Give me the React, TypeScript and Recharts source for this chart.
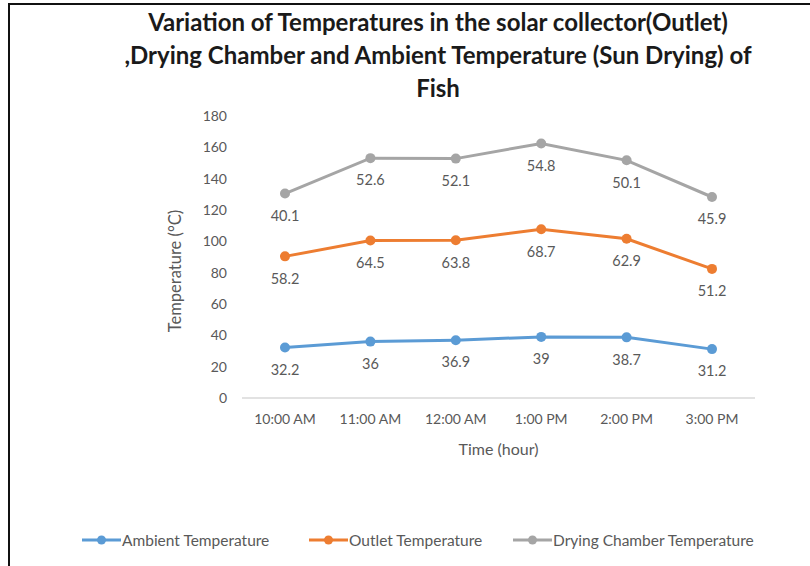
import React from 'react';
import { AreaChart, Area, XAxis, YAxis, LabelList } from 'recharts';

const times = ['10:00 AM', '11:00 AM', '12:00 AM', '1:00 PM', '2:00 PM', '3:00 PM'];
const ambient = [32.2, 36, 36.9, 39, 38.7, 31.2];
const outlet = [58.2, 64.5, 63.8, 68.7, 62.9, 51.2];
const dryingChamber = [40.1, 52.6, 52.1, 54.8, 50.1, 45.9];
const yTicks = [0, 20, 40, 60, 80, 100, 120, 140, 160, 180];

const series = [
  { key: 'ambient', name: 'Ambient Temperature', color: '#5B9BD5', legendX: 82 },
  { key: 'outlet', name: 'Outlet Temperature', color: '#ED7D31', legendX: 309 },
  { key: 'chamber', name: 'Drying Chamber Temperature', color: '#A5A5A5', legendX: 513 },
];

const data = times.map((time, i) => ({
  time,
  ambient: ambient[i],
  outlet: outlet[i],
  chamber: dryingChamber[i],
}));

const FONT = 'Lato, "Open Sans", sans-serif';
const TEXT = '#595959';

const makeDot = (color: string) => (props: any) => {
  const { cx, cy, index } = props;
  if (cx == null || cy == null) return <g key={index} />;
  return <circle key={index} cx={cx} cy={cy} r={5} fill={color} />;
};

const App: React.FC = () => {
  return (
    <div style={{ position: 'absolute', left: 0, top: 0, width: 810, height: 566, background: '#fff', fontFamily: FONT }}>
      <div
        style={{
          position: 'absolute',
          left: 8,
          top: 3,
          width: 802,
          height: 563,
          borderTop: '2px solid #111',
          borderLeft: '2px solid #111',
        }}
      />
      <div
        style={{
          position: 'absolute',
          left: 88,
          top: 5,
          width: 700,
          textAlign: 'center',
          fontWeight: 700,
          fontSize: 24,
          lineHeight: '33px',
          color: '#1a1a1a',
          whiteSpace: 'nowrap',
        }}
      >
        Variation of Temperatures in the solar collector(Outlet)
        <br />
        ,Drying Chamber and Ambient Temperature (Sun Drying) of
        <br />
        Fish
      </div>

      <div style={{ position: 'absolute', left: 0, top: 0 }}>
        <AreaChart width={810} height={566} data={data} margin={{ top: 116, right: 55, bottom: 138, left: 0 }}>
          <XAxis
            dataKey="time"
            padding={{ left: 43, right: 43 }}
            tickLine={false}
            tickSize={0}
            tickMargin={16}
            axisLine={{ stroke: '#D9D9D9', strokeWidth: 1.5 }}
            tick={{ fill: TEXT, fontSize: 14, fontFamily: FONT }}
            label={{ value: 'Time (hour)', position: 'bottom', offset: 16, fill: TEXT, fontSize: 16, fontFamily: FONT }}
          />
          <YAxis
            width={242}
            domain={[0, 180]}
            ticks={yTicks}
            axisLine={false}
            tickLine={false}
            tickSize={0}
            tickMargin={15}
            tick={{ fill: TEXT, fontSize: 14, fontFamily: FONT }}
          />
          {series.map((s) => (
            <Area
              key={s.key}
              type="linear"
              dataKey={s.key}
              name={s.name}
              stackId="temps"
              stroke={s.color}
              strokeWidth={3}
              fill="none"
              fillOpacity={0}
              dot={makeDot(s.color)}
              activeDot={false}
              isAnimationActive={false}
            >
              <LabelList dataKey={s.key} position="bottom" offset={17} fill={TEXT} fontSize={14.5} fontFamily={FONT} />
            </Area>
          ))}
          <text
            x={175}
            y={271}
            transform="rotate(-90 175 271)"
            textAnchor="middle"
            dominantBaseline="central"
            fill={TEXT}
            fontSize={16.5}
            fontFamily={FONT}
          >
            Temperature (°C)
          </text>
        </AreaChart>
      </div>

      {/* legend */}
      {series.map((s) => (
        <div
          key={s.key}
          style={{
            position: 'absolute',
            left: s.legendX,
            top: 530,
            display: 'flex',
            alignItems: 'center',
            fontSize: 15.5,
            color: TEXT,
            whiteSpace: 'nowrap',
          }}
        >
          <svg width={39} height={20}>
            <line x1={0} y1={10} x2={39} y2={10} stroke={s.color} strokeWidth={3} />
            <circle cx={19.5} cy={10} r={4.5} fill={s.color} />
          </svg>
          <span style={{ marginLeft: 1 }}>{s.name}</span>
        </div>
      ))}
    </div>
  );
};

export default App;
